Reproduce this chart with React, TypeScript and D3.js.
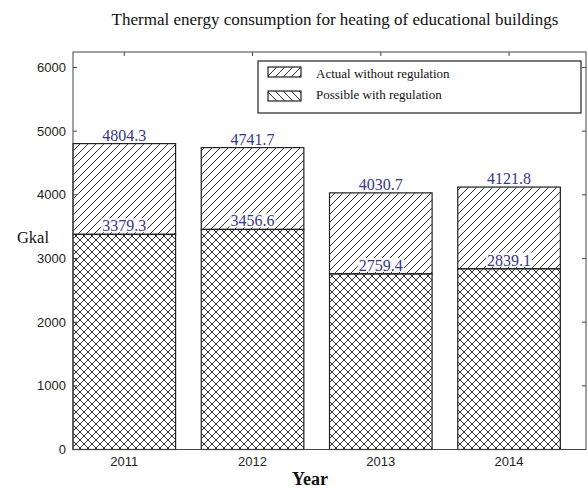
import React from "react";
import * as d3 from "d3";

const years = ["2011", "2012", "2013", "2014"];
const actual = [4804.3, 4741.7, 4030.7, 4121.8];
const possible = [3379.3, 3456.6, 2759.4, 2839.1];
const yTicks = [0, 1000, 2000, 3000, 4000, 5000, 6000];
const seriesNames = ["Actual without regulation", "Possible with regulation"];
const title = "Thermal energy consumption for heating of educational buildings";

const W = 588;
const H = 488;
const left = 73;
const right = 586;
const top = 52;
const bottom = 449.5;

export default function App() {
  const x = d3.scaleLinear().domain([0, 4]).range([left, right]);
  const y = d3.scaleLinear().domain([0, 6243]).range([bottom, top]);
  const bw = x(0.8) - x(0);
  const serif = "'Liberation Serif', 'Times New Roman', serif";
  const sans = "'Liberation Sans', Arial, sans-serif";
  const labelColor = "#35358a";
  const hs = 8;

  const valueLabel = (v: number, cx: number, key: string) => {
    const txt = v.toFixed(1);
    const tw = 44;
    const yy = y(v) - 3;
    return (
      <g key={key}>
        <rect x={cx - tw / 2 - 1} y={yy - 13} width={tw + 2} height={14} fill="#fff" />
        <text x={cx} y={yy} textAnchor="middle" fontFamily={serif} fontSize={16} fill={labelColor}>
          {txt}
        </text>
      </g>
    );
  };

  return (
    <svg width={W} height={H} style={{ position: "absolute", left: 0, top: 0, background: "#fff" }}>
      <defs>
        <pattern id="diag" patternUnits="userSpaceOnUse" width={hs} height={hs}>
          <path d={`M0,${hs} L${hs},0 M${-hs / 2},${hs / 2} L${hs / 2},${-hs / 2} M${hs / 2},${hs * 1.5} L${hs * 1.5},${hs / 2}`} stroke="#333" strokeWidth={1} />
        </pattern>
        <pattern id="back" patternUnits="userSpaceOnUse" width={hs} height={hs}>
          <path d={`M0,0 L${hs},${hs} M${-hs / 2},${hs / 2} L${hs / 2},${hs * 1.5} M${hs / 2},${-hs / 2} L${hs * 1.5},${hs / 2}`} stroke="#333" strokeWidth={1} />
        </pattern>
        <pattern id="cross" patternUnits="userSpaceOnUse" width={hs} height={hs}>
          <path d={`M0,${hs} L${hs},0 M${-hs / 2},${hs / 2} L${hs / 2},${-hs / 2} M${hs / 2},${hs * 1.5} L${hs * 1.5},${hs / 2}`} stroke="#333" strokeWidth={1} />
          <path d={`M0,0 L${hs},${hs} M${-hs / 2},${hs / 2} L${hs / 2},${hs * 1.5} M${hs / 2},${-hs / 2} L${hs * 1.5},${hs / 2}`} stroke="#333" strokeWidth={1} />
        </pattern>
      </defs>

      <text x={335} y={25} textAnchor="middle" fontFamily={serif} fontSize={17} fill="#111">
        {title}
      </text>

      {years.map((yr, i) => {
        const x0 = x(i);
        return (
          <g key={yr}>
            <rect x={x0} y={y(actual[i])} width={bw} height={y(possible[i]) - y(actual[i])} fill="url(#diag)" stroke="#222" strokeWidth={1.2} />
            <rect x={x0} y={y(possible[i])} width={bw} height={y(0) - y(possible[i])} fill="url(#cross)" stroke="#222" strokeWidth={1.2} />
          </g>
        );
      })}

      {years.map((yr, i) => {
        const cx = x(i) + bw / 2;
        return (
          <g key={"l" + yr}>
            {valueLabel(actual[i], cx, "a" + i)}
            {valueLabel(possible[i], cx, "p" + i)}
          </g>
        );
      })}

      <rect x={left} y={top} width={right - left} height={bottom - top} fill="none" stroke="#444" strokeWidth={1} />

      {yTicks.map((t) => (
        <g key={"yt" + t}>
          <line x1={left} x2={left + 4} y1={y(t)} y2={y(t)} stroke="#444" />
          <line x1={right - 4} x2={right} y1={y(t)} y2={y(t)} stroke="#444" />
          <text x={left - 7} y={y(t)} dy="0.35em" textAnchor="end" fontFamily={sans} fontSize={13} fill="#222">
            {t}
          </text>
        </g>
      ))}

      {years.map((yr, i) => {
        const cx = x(i) + bw / 2;
        return (
          <g key={"xt" + yr}>
            <line x1={cx} x2={cx} y1={top} y2={top + 4} stroke="#444" />
            <text x={cx} y={466} textAnchor="middle" fontFamily={sans} fontSize={13} fill="#222">
              {yr}
            </text>
          </g>
        );
      })}

      <text x={33} y={243} textAnchor="middle" fontFamily={serif} fontSize={16.5} fill="#111">
        Gkal
      </text>
      <text x={310} y={485} textAnchor="middle" fontFamily={serif} fontSize={18} fontWeight="bold" fill="#111">
        Year
      </text>

      <rect x={258} y={61} width={323} height={52} fill="#fff" stroke="#333" strokeWidth={1.3} />
      <rect x={268} y={67} width={33} height={10} fill="url(#diag)" stroke="#222" strokeWidth={1.2} />
      <rect x={268} y={91} width={33} height={10} fill="url(#back)" stroke="#222" strokeWidth={1.2} />
      <text x={316} y={78} fontFamily={serif} fontSize={13} fill="#111">
        {seriesNames[0]}
      </text>
      <text x={316} y={99} fontFamily={serif} fontSize={13} fill="#111">
        {seriesNames[1]}
      </text>
    </svg>
  );
}
